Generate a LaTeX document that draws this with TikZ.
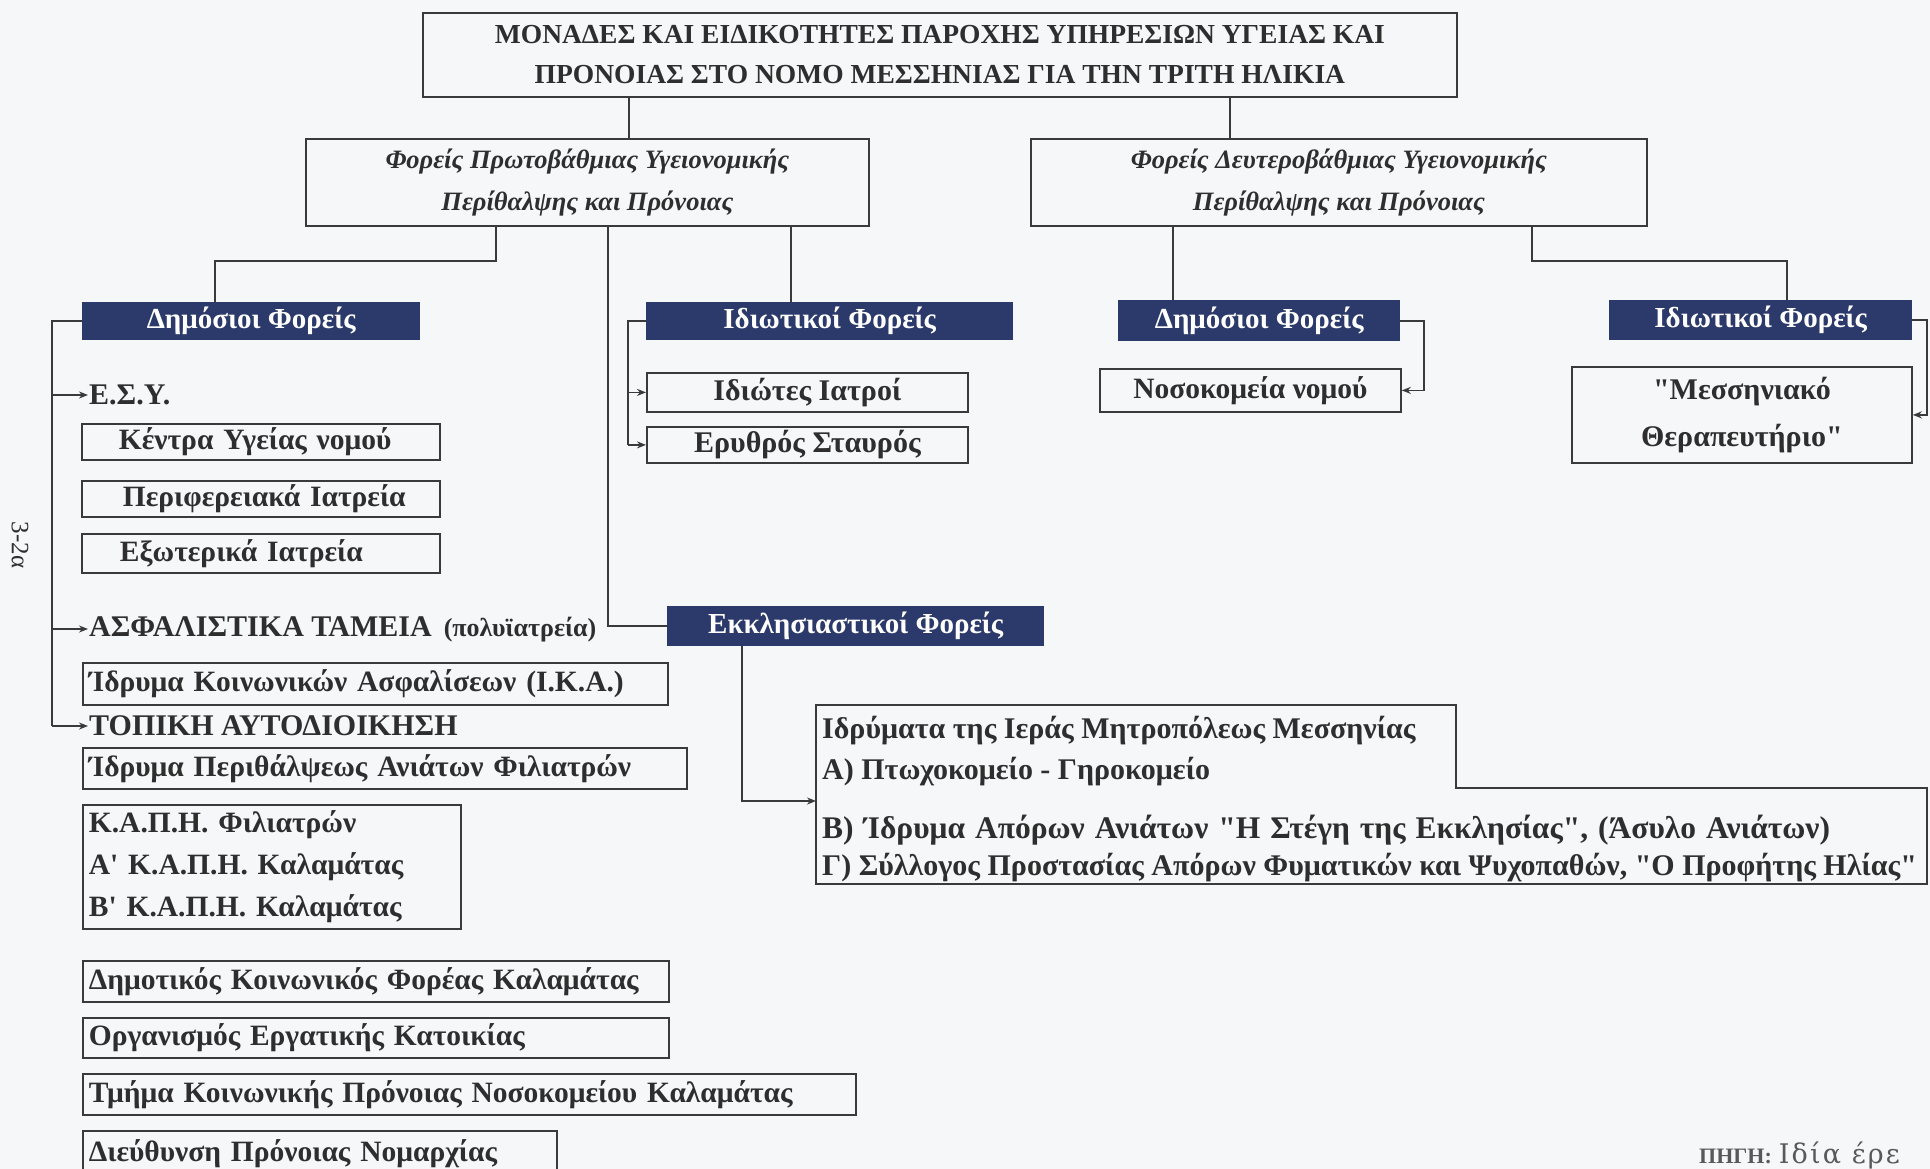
\documentclass[tikz,border=0pt]{standalone}
\usepackage{fontspec}
\setmainfont{Liberation Serif}
\newfontfamily\srcfont{DejaVu Serif}[LetterSpace=8.0]
\usetikzlibrary{arrows.meta,calc}
\definecolor{bgc}{HTML}{F5F7F8}
\definecolor{linec}{HTML}{3A3A3A}
\definecolor{txtc}{HTML}{2E2E2E}
\definecolor{navy}{HTML}{2C3A6B}
\newcommand{\fsz}[2]{\fontsize{#1}{#2}\selectfont}
\newcommand{\dq}{\textquotedbl}
\newcommand{\sq}{\textquotesingle}
\begin{document}
\begin{tikzpicture}[x=1pt,y=-1pt,
  every node/.style={text=txtc},
  ln/.style={draw=linec, line width=1.8pt},
  cbox/.style={ln, anchor=north west, align=center, inner sep=0pt},
  lbox/.style={ln, anchor=north west, align=left, inner ysep=0pt, inner xsep=6pt, font=\bfseries\fsz{29.5}{34}},
  dark/.style={fill=navy, anchor=north west, inner sep=0pt, text=white, font=\bfseries\fsz{29}{32}},
  lbl/.style={anchor=west, inner sep=1pt, font=\bfseries\fsz{30}{34}},
  conn/.style={draw=linec, line width=1.6pt},
  arr/.style={conn, -{Stealth[length=9pt,width=7pt]}},
  bigt/.style={anchor=west, inner sep=0pt, font=\bfseries\fsz{30}{34}},
]
\fill[bgc] (0,0) rectangle (1930,1169);
\useasboundingbox (0,0) rectangle (1930,1169);

% top
\node[cbox, minimum width=1034, minimum height=84, font=\bfseries\fsz{27.5}{40}] (title) at (422,12)
  {ΜΟΝΑΔΕΣ ΚΑΙ ΕΙΔΙΚΟΤΗΤΕΣ ΠΑΡΟΧΗΣ ΥΠΗΡΕΣΙΩΝ ΥΓΕΙΑΣ ΚΑΙ\\ΠΡΟΝΟΙΑΣ ΣΤΟ ΝΟΜΟ ΜΕΣΣΗΝΙΑΣ ΓΙΑ ΤΗΝ ΤΡΙΤΗ ΗΛΙΚΙΑ};
\node[cbox, minimum width=563, minimum height=87, font=\bfseries\itshape\fsz{26.5}{42}] (prim) at (305,138)
  {Φορείς Πρωτοβάθμιας Υγειονομικής\\Περίθαλψης και Πρόνοιας};
\node[cbox, minimum width=616, minimum height=87, font=\bfseries\itshape\fsz{26.5}{42}] (sec) at (1030,138)
  {Φορείς Δευτεροβάθμιας Υγειονομικής\\Περίθαλψης και Πρόνοιας};

% dark boxes
\node[dark, minimum width=338, minimum height=38] (dpub1) at (82,302) {Δημόσιοι Φορείς};
\node[dark, minimum width=367, minimum height=38] (dpriv1) at (646,302) {Ιδιωτικοί Φορείς};
\node[dark, minimum width=282, minimum height=41] (dpub2) at (1118,300) {Δημόσιοι Φορείς};
\node[dark, minimum width=303, minimum height=40] (dpriv2) at (1609,300) {Ιδιωτικοί Φορείς};
\node[dark, minimum width=377, minimum height=40] (ekkl) at (667,606) {Εκκλησιαστικοί Φορείς};

% public primary
\node[lbl] (esy) at (88,395) {Ε.Σ.Υ.};
\node[lbox, text width=346, minimum height=36] (kentra) at (81,423) {\hspace*{31pt}Κέντρα Υγείας νομού};
\node[lbox, text width=346, minimum height=36] (perif) at (81,480) {\hspace*{35pt}Περιφερειακά Ιατρεία};
\node[lbox, text width=346, minimum height=39] (exot) at (81,533) {\hspace*{32pt}Εξωτερικά Ιατρεία};
\node[lbl] (asfal) at (88,629) {ΑΣΦΑΛΙΣΤΙΚΑ ΤΑΜΕΙΑ\hspace{12pt}{\fsz{26}{30}(πολυϊατρεία)}};
\node[lbox, text width=573, minimum height=42] (ika) at (82,662) {Ίδρυμα Κοινωνικών Ασφαλίσεων (Ι.Κ.Α.)};
\node[lbl] (topiki) at (88,726) {ΤΟΠΙΚΗ ΑΥΤΟΔΙΟΙΚΗΣΗ};
\node[lbox, text width=592, minimum height=41] (filiatra) at (82,747) {Ίδρυμα Περιθάλψεως Ανιάτων Φιλιατρών};
\node[lbox, text width=366, minimum height=124, font=\bfseries\fsz{29.5}{42}] (kapi) at (82,804) {Κ.Α.Π.Η. Φιλιατρών\\Α\sq{} Κ.Α.Π.Η. Καλαμάτας\\Β\sq{} Κ.Α.Π.Η. Καλαμάτας};
\node[lbox, text width=574, minimum height=41] (dimot) at (82,960) {Δημοτικός Κοινωνικός Φορέας Καλαμάτας};
\node[lbox, text width=574, minimum height=40] (organ) at (82,1017) {Οργανισμός Εργατικής Κατοικίας};
\node[lbox, text width=761, minimum height=41] (tmima) at (82,1073) {Τμήμα Κοινωνικής Πρόνοιας Νοσοκομείου Καλαμάτας};
\node[lbox, text width=462, minimum height=45] (dieyth) at (82,1130) {Διεύθυνση Πρόνοιας Νομαρχίας};

% private primary
\node[cbox, minimum width=321, minimum height=39, font=\bfseries\fsz{30}{34}] (iatroi) at (646,372) {Ιδιώτες Ιατροί};
\node[cbox, minimum width=321, minimum height=36, font=\bfseries\fsz{30}{34}] (erythros) at (646,426) {Ερυθρός Σταυρός};

% secondary children
\node[cbox, minimum width=301, minimum height=43, font=\bfseries\fsz{29.5}{34}] (nosok) at (1099,368) {Νοσοκομεία νομού};
\node[cbox, minimum width=340, minimum height=96, font=\bfseries\fsz{30}{47}] (messin) at (1571,366) {\dq Μεσσηνιακό\\Θεραπευτήριο\dq};

% church institutions
\draw[ln] (816,705) -- (1456,705) -- (1456,788) -- (1927,788) -- (1927,884) -- (816,884) -- cycle;
\node[bigt] (t1) at (822,731) {Ιδρύματα της Ιεράς Μητροπόλεως Μεσσηνίας};
\node[bigt] (t2) at (822,772) {Α) Πτωχοκομείο - Γηροκομείο};
\node[bigt, font=\bfseries\fsz{31.5}{34}] (t3) at (822,830) {\spaceskip=10pt plus 2pt\relax Β) Ίδρυμα Απόρων Ανιάτων \dq Η Στέγη της Εκκλησίας\dq, (Άσυλο Ανιάτων)};
\node[bigt] (t4) at (822,868) {Γ) Σύλλογος Προστασίας Απόρων Φυματικών και Ψυχοπαθών, \dq Ο Προφήτης Ηλίας\dq};

% side & source
\node[rotate=-90, inner sep=0pt, font=\fsz{25}{28}] (pg) at (20,545) {3-2α};
\node[anchor=west, inner sep=0pt, text=black!65] (src) at (1699,1155) {{\bfseries\fsz{22}{26}ΠΗΓΗ:}\hspace{7pt}{\srcfont\fsz{27}{30}Ιδία έρε}};

% connectors
\coordinate (x1) at (629,0); \coordinate (x2) at (1230,0);
\draw[conn] (title.south -| x1) -- (prim.north -| x1);
\draw[conn] (title.south -| x2) -- (sec.north -| x2);
\coordinate (j1) at (496,261); \coordinate (j2) at (215,261);
\draw[conn] (prim.south -| j1) -- (j1) -- (j2) -- (dpub1.north -| j2);
\coordinate (x3) at (791,0);
\draw[conn] (prim.south -| x3) -- (dpriv1.north -| x3);
\coordinate (x4) at (608,0);
\draw[conn] (prim.south -| x4) |- (ekkl.west);

\coordinate (b1) at (52,0);
\draw[conn] (dpub1.west) -- (dpub1.west -| b1) -- (b1 |- topiki.west);
\draw[arr] (b1 |- esy.west) -- (esy.west);
\draw[arr] (b1 |- asfal.west) -- (asfal.west);
\draw[arr] (b1 |- topiki.west) -- (topiki.west);

\coordinate (b2) at (628,0);
\draw[conn] (dpriv1.west) -- (dpriv1.west -| b2) -- (b2 |- erythros.west);
\draw[arr] (b2 |- iatroi.west) -- (iatroi.west);
\draw[arr] (b2 |- erythros.west) -- (erythros.west);

\coordinate (x5) at (1173,0);
\draw[conn] (sec.south -| x5) -- (dpub2.north -| x5);
\coordinate (j3) at (1532,261); \coordinate (j4) at (1787,261);
\draw[conn] (sec.south -| j3) -- (j3) -- (j4) -- (dpriv2.north -| j4);
\coordinate (b3) at (1424,0);
\draw[arr] (dpub2.east) -- (dpub2.east -| b3) -- (b3 |- nosok.east) -- (nosok.east);
\coordinate (b4) at (1927,0);
\draw[arr] (dpriv2.east) -- (dpriv2.east -| b4) -- (b4 |- messin.east) -- (messin.east);

\coordinate (bigL) at (816,801);
\coordinate (x6) at (742,0);
\draw[arr] (ekkl.south -| x6) |- (bigL);
\end{tikzpicture}
\end{document}
